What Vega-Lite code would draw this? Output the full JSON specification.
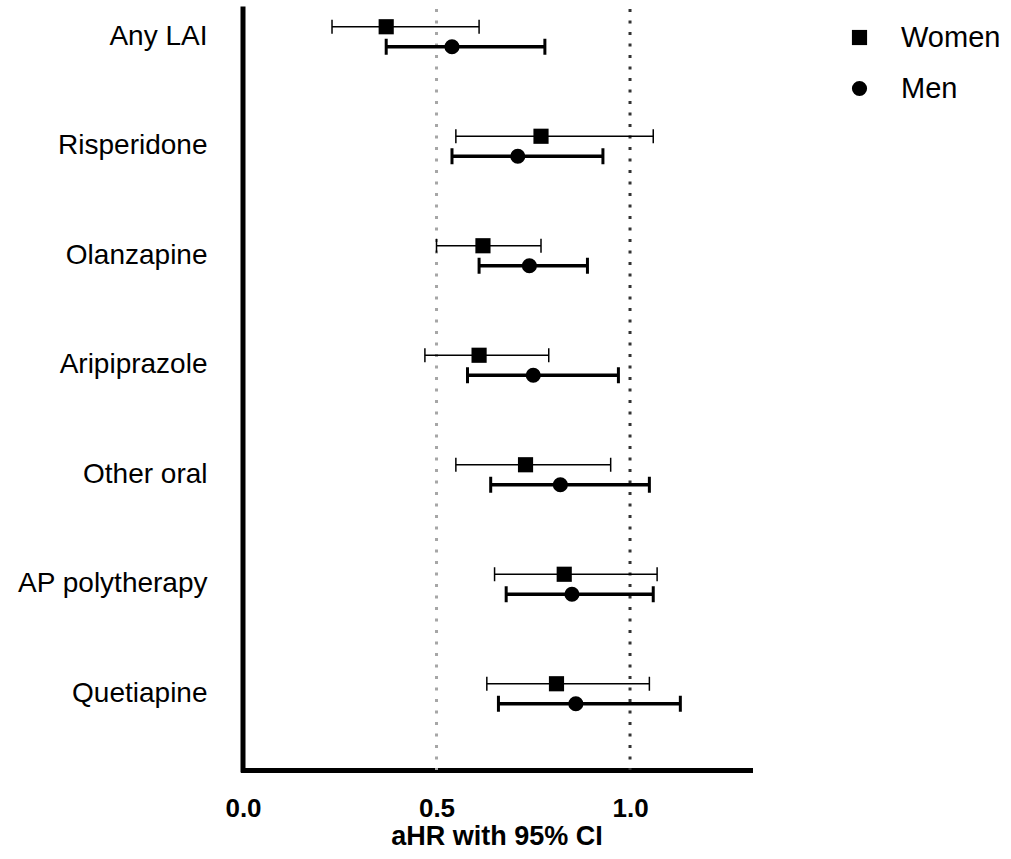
{
  "$schema": "https://vega.github.io/schema/vega-lite/v6.json",
  "autosize": {"type": "none"},
  "width": 507,
  "height": 761,
  "padding": {"left": 243, "top": 9, "right": 261, "bottom": 89},
  "background": "white",
  "config": {
    "view": {"stroke": null},
    "font": "Liberation Sans"
  },
  "data": {
    "values": [
      {"drug": "Any LAI", "sex": "Women", "est": 0.37, "lo": 0.23, "hi": 0.61},
      {"drug": "Any LAI", "sex": "Men", "est": 0.54, "lo": 0.37, "hi": 0.78},
      {"drug": "Risperidone", "sex": "Women", "est": 0.77, "lo": 0.55, "hi": 1.06},
      {"drug": "Risperidone", "sex": "Men", "est": 0.71, "lo": 0.54, "hi": 0.93},
      {"drug": "Olanzapine", "sex": "Women", "est": 0.62, "lo": 0.50, "hi": 0.77},
      {"drug": "Olanzapine", "sex": "Men", "est": 0.74, "lo": 0.61, "hi": 0.89},
      {"drug": "Aripiprazole", "sex": "Women", "est": 0.61, "lo": 0.47, "hi": 0.79},
      {"drug": "Aripiprazole", "sex": "Men", "est": 0.75, "lo": 0.58, "hi": 0.97},
      {"drug": "Other oral", "sex": "Women", "est": 0.73, "lo": 0.55, "hi": 0.95},
      {"drug": "Other oral", "sex": "Men", "est": 0.82, "lo": 0.64, "hi": 1.05},
      {"drug": "AP polytherapy", "sex": "Women", "est": 0.83, "lo": 0.65, "hi": 1.07},
      {"drug": "AP polytherapy", "sex": "Men", "est": 0.85, "lo": 0.68, "hi": 1.06},
      {"drug": "Quetiapine", "sex": "Women", "est": 0.81, "lo": 0.63, "hi": 1.05},
      {"drug": "Quetiapine", "sex": "Men", "est": 0.86, "lo": 0.66, "hi": 1.13}
    ]
  },
  "encoding": {
    "y": {
      "field": "drug",
      "type": "nominal",
      "sort": ["Any LAI", "Risperidone", "Olanzapine", "Aripiprazole", "Other oral", "AP polytherapy", "Quetiapine"],
      "scale": {"range": [-27, 739.5], "paddingInner": 0, "paddingOuter": 0},
      "axis": {
        "title": null,
        "domain": false,
        "ticks": false,
        "tickSize": 0,
        "labelPadding": 36,
        "labelFontSize": 28,
        "labelLimit": 0,
        "labelColor": "black",
        "labelFont": "Liberation Sans",
        "grid": false
      }
    },
    "yOffset": {
      "field": "sex",
      "type": "nominal",
      "sort": ["Women", "Men"],
      "scale": {"range": [34.75, 74.75], "paddingInner": 0, "paddingOuter": 0}
    }
  },
  "layer": [
    {
      "data": {"values": [{"v": 0.5}]},
      "mark": {"type": "rule", "color": "#a6a6a6", "strokeWidth": 3, "strokeDash": [3, 8.5]},
      "encoding": {"x": {"field": "v", "type": "quantitative"}, "y": null, "yOffset": null}
    },
    {
      "data": {"values": [{"v": 1.0}]},
      "mark": {"type": "rule", "color": "#333333", "strokeWidth": 3, "strokeDash": [3, 8.5]},
      "encoding": {"x": {"field": "v", "type": "quantitative"}, "y": null, "yOffset": null}
    },
    {
      "data": {"values": [{"v": 0}]},
      "mark": {"type": "rule", "color": "black", "strokeWidth": 5, "strokeCap": "square"},
      "encoding": {"x": {"field": "v", "type": "quantitative"}, "y": null, "yOffset": null}
    },
    {
      "transform": [{"filter": "datum.sex === 'Women'"}],
      "mark": {"type": "rule", "color": "black", "strokeWidth": 1.5},
      "encoding": {
        "x": {"field": "lo", "type": "quantitative"},
        "x2": {"field": "hi"}
      }
    },
    {
      "transform": [{"filter": "datum.sex === 'Men'"}],
      "mark": {"type": "rule", "color": "black", "strokeWidth": 3.5},
      "encoding": {
        "x": {"field": "lo", "type": "quantitative"},
        "x2": {"field": "hi"}
      }
    },
    {
      "transform": [{"filter": "datum.sex === 'Women'"}, {"fold": ["lo", "hi"], "as": ["end", "val"]}],
      "mark": {"type": "tick", "color": "black", "thickness": 1.5, "size": 14, "orient": "vertical", "opacity": 1},
      "encoding": {"x": {"field": "val", "type": "quantitative"}}
    },
    {
      "transform": [{"filter": "datum.sex === 'Men'"}, {"fold": ["lo", "hi"], "as": ["end", "val"]}],
      "mark": {"type": "tick", "color": "black", "thickness": 3, "size": 16, "orient": "vertical", "opacity": 1},
      "encoding": {"x": {"field": "val", "type": "quantitative"}}
    },
    {
      "mark": {"type": "point", "filled": true, "color": "black", "opacity": 1, "size": 230},
      "encoding": {
        "x": {
          "field": "est",
          "type": "quantitative",
          "scale": {"domain": [0, 1.31], "nice": false, "zero": true},
          "axis": {
            "values": [0, 0.5, 1.0],
            "format": ".1f",
            "title": "aHR with 95% CI",
            "titleFontSize": 27,
            "titleFontWeight": "bold",
            "titleColor": "black",
            "titleFont": "Liberation Sans",
            "titlePadding": 2,
            "labelFontSize": 26,
            "labelFontWeight": "bold",
            "labelColor": "black",
            "labelFont": "Liberation Sans",
            "labelPadding": 25,
            "labelFlush": false,
            "labelOverlap": false,
            "ticks": false,
            "tickSize": 0,
            "grid": false,
            "domainColor": "black",
            "domainWidth": 5,
            "domainCap": "square"
          }
        },
        "shape": {
          "field": "sex",
          "type": "nominal",
          "sort": ["Women", "Men"],
          "scale": {"domain": ["Women", "Men"], "range": ["square", "circle"]},
          "legend": {
            "title": null,
            "orient": "none",
            "legendX": 602,
            "legendY": 14,
            "labelFontSize": 29,
            "labelColor": "black",
            "labelFont": "Liberation Sans",
            "symbolSize": 230,
            "symbolFillColor": "black",
            "symbolStrokeColor": "black",
            "symbolStrokeWidth": 0,
            "symbolType": "circle",
            "labelOffset": 27,
            "rowPadding": 21
          }
        }
      }
    }
  ]
}
